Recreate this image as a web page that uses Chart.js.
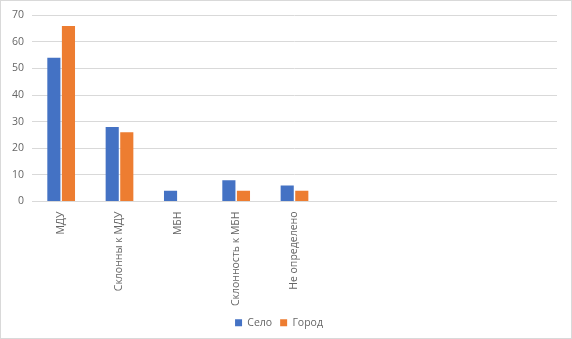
<!DOCTYPE html>
<html>
<head>
<meta charset="utf-8">
<script src="https://cdn.jsdelivr.net/npm/chart.js@4"></script>
<style>
  html, body { margin: 0; padding: 0; background: #fff; }
  #wrap { width: 570px; height: 337px; border: 1px solid #d9d9d9; position: relative; }
</style>
</head>
<body>
<div id="wrap"><canvas id="chart" width="570" height="337"></canvas></div>
<script>
// categories (Excel chart has 4 empty slots on the right)
const categories = ['МДУ', 'Склонны к МДУ', 'МБН', 'Склонность к МБН', 'Не определено', '', '', '', ''];
const seloValues = [54, 28, 4, 8, 6, null, null, null, null];
const gorodValues = [66, 26, 0, 4, 4, null, null, null, null];
const yTicks = [0, 10, 20, 30, 40, 50, 60, 70];

const textColor = '#666666';
const gridColor = '#d9d9d9';
const fontFamily = '"Open Sans", "Liberation Sans", sans-serif';

const ctx = document.getElementById('chart');
new Chart(ctx, {
    type: 'bar',
    data: {
        labels: categories,
        datasets: [{
            label: 'Село',
            data: seloValues,
            backgroundColor: '#4472C4',
            categoryPercentage: 0.5,
            barPercentage: 0.9
        }, {
            label: 'Город',
            data: gorodValues,
            backgroundColor: '#ED7D31',
            categoryPercentage: 0.5,
            barPercentage: 0.9
        }]
    },
    options: {
        responsive: false,
        animation: false,
        layout: { padding: { top: 13, right: 14, bottom: 0, left: 0 } },
        plugins: {
            legend: {
                position: 'bottom',
                labels: {
                    boxWidth: 7,
                    boxHeight: 7,
                    color: textColor,
                    padding: 8,
                    font: { family: fontFamily, size: 10.5 }
                }
            },
            tooltip: { enabled: false }
        },
        scales: {
            x: {
                grid: { display: false, drawTicks: false },
                border: { display: false },
                ticks: {
                    color: textColor,
                    maxRotation: 90,
                    minRotation: 90,
                    autoSkip: false,
                    padding: 10,
                    font: { family: fontFamily, size: 10.5 }
                },
                afterFit: function (scale) { scale.height = 108; }
            },
            y: {
                min: 0,
                max: 70,
                afterBuildTicks: function (scale) {
                    scale.ticks = yTicks.map(function (v) { return { value: v }; });
                },
                grid: { color: gridColor, drawTicks: false },
                border: { display: false },
                ticks: {
                    color: textColor,
                    padding: 8,
                    font: { family: fontFamily, size: 10.5 }
                },
                afterFit: function (scale) { scale.width = 31; }
            }
        }
    }
});
</script>
</body>
</html>
